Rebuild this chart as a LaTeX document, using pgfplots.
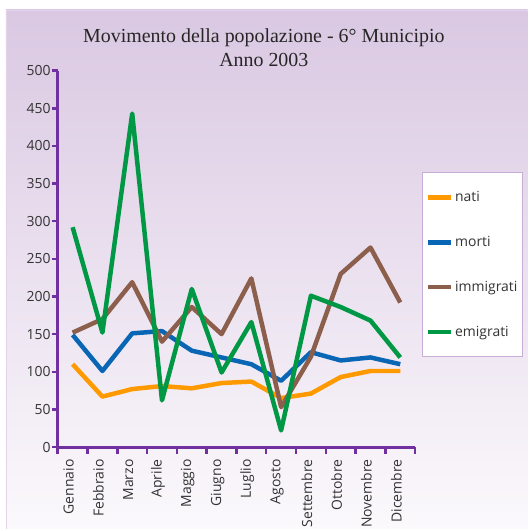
\documentclass[border=0pt]{standalone}
\usepackage{fontspec}
\usepackage{pgfplots}
\pgfplotsset{compat=1.18}
\setmainfont{Liberation Serif}
\newfontfamily\labelfont{Open Sans}
\definecolor{cnati}{HTML}{FF9900}
\definecolor{cmorti}{HTML}{0866B4}
\definecolor{cimm}{HTML}{8C5E4C}
\definecolor{cemi}{HTML}{009844}
\definecolor{caxis}{HTML}{7030A0}
\definecolor{bgtop}{HTML}{DAC8E2}
\definecolor{bgbot}{HTML}{FBF9FC}
\definecolor{bgedge}{HTML}{E2D4EA}
\definecolor{clegend}{HTML}{C9ADD9}
\definecolor{ctext}{HTML}{333333}
\begin{document}
\begin{tikzpicture}[x=1pt,y=1pt]
\path (0,0) rectangle (530,531);
\shade[top color=bgtop, bottom color=bgbot] (6,0) rectangle (530,521);
\draw[bgedge, line width=1pt] (6.5,0) -- (6.5,520.5) -- (530,520.5);
\node[align=center, font=\fontsize{20}{24}\selectfont, text=black!85] at (265,483)
  {Movimento della popolazione - 6° Municipio\\Anno 2003};
\begin{axis}[
  at={(58pt,82pt)}, anchor=south west,
  scale only axis, width=359pt, height=378pt,
  xmin=0.5, xmax=12.5, ymin=0, ymax=500,
  axis x line*=bottom, axis y line*=left,
  x axis line style={-}, y axis line style={-},
  axis line style={caxis, line width=3pt},
  tick align=outside,
  major tick length=6pt,
  ytick={0,50,...,500},
  y tick style={caxis, line width=2.5pt},
  xtick={1,...,12},
  xticklabels={Gennaio,Febbraio,Marzo,Aprile,Maggio,Giugno,Luglio,Agosto,Settembre,Ottobre,Novembre,Dicembre},
  major x tick style={draw=none},
  minor xtick={0.5,1.5,...,12.5},
  minor tick length=7pt,
  minor x tick style={caxis, line width=2.5pt},
  yticklabel style={font=\labelfont\fontsize{14}{14}\selectfont, text=ctext, inner xsep=1pt},
  xticklabel style={font=\labelfont\fontsize{14}{14}\selectfont, text=ctext, rotate=90, anchor=east, xshift=-3pt, yshift=4pt},
  /pgf/number format/assume math mode=true,
  legend style={at={(1.02,0.730)}, anchor=north west, draw=clegend, line width=1pt, fill=white,
    font=\labelfont\fontsize{14}{14}\selectfont, text=ctext,
    row sep=29.6pt, inner xsep=3pt, inner ysep=17pt,
    cells={anchor=west, text height=10pt, text depth=3pt, inner ysep=2pt, inner xsep=4pt}},
  legend image code/.code={\draw[#1] (0pt,0pt) -- (23pt,0pt);},
  every axis plot/.append style={line width=4.5pt, line join=round},
]
\addplot[cnati] coordinates {(1,110) (2,67) (3,77) (4,81) (5,78) (6,85) (7,87) (8,65) (9,71) (10,93) (11,101) (12,101)};
\addlegendentry{nati}
\addplot[cmorti] coordinates {(1,149) (2,101) (3,151) (4,154) (5,128) (6,119) (7,110) (8,88) (9,126) (10,115) (11,119) (12,110)};
\addlegendentry{morti}
\addplot[cimm] coordinates {(1,152) (2,170) (3,219) (4,140) (5,186) (6,150) (7,224) (8,53) (9,120) (10,230) (11,265) (12,192)};
\addlegendentry{immigrati}
\addplot[cemi] coordinates {(1,292) (2,152) (3,443) (4,62) (5,210) (6,99) (7,166) (8,22) (9,201) (10,186) (11,168) (12,119)};
\addlegendentry{emigrati}
\end{axis}
\end{tikzpicture}
\end{document}
